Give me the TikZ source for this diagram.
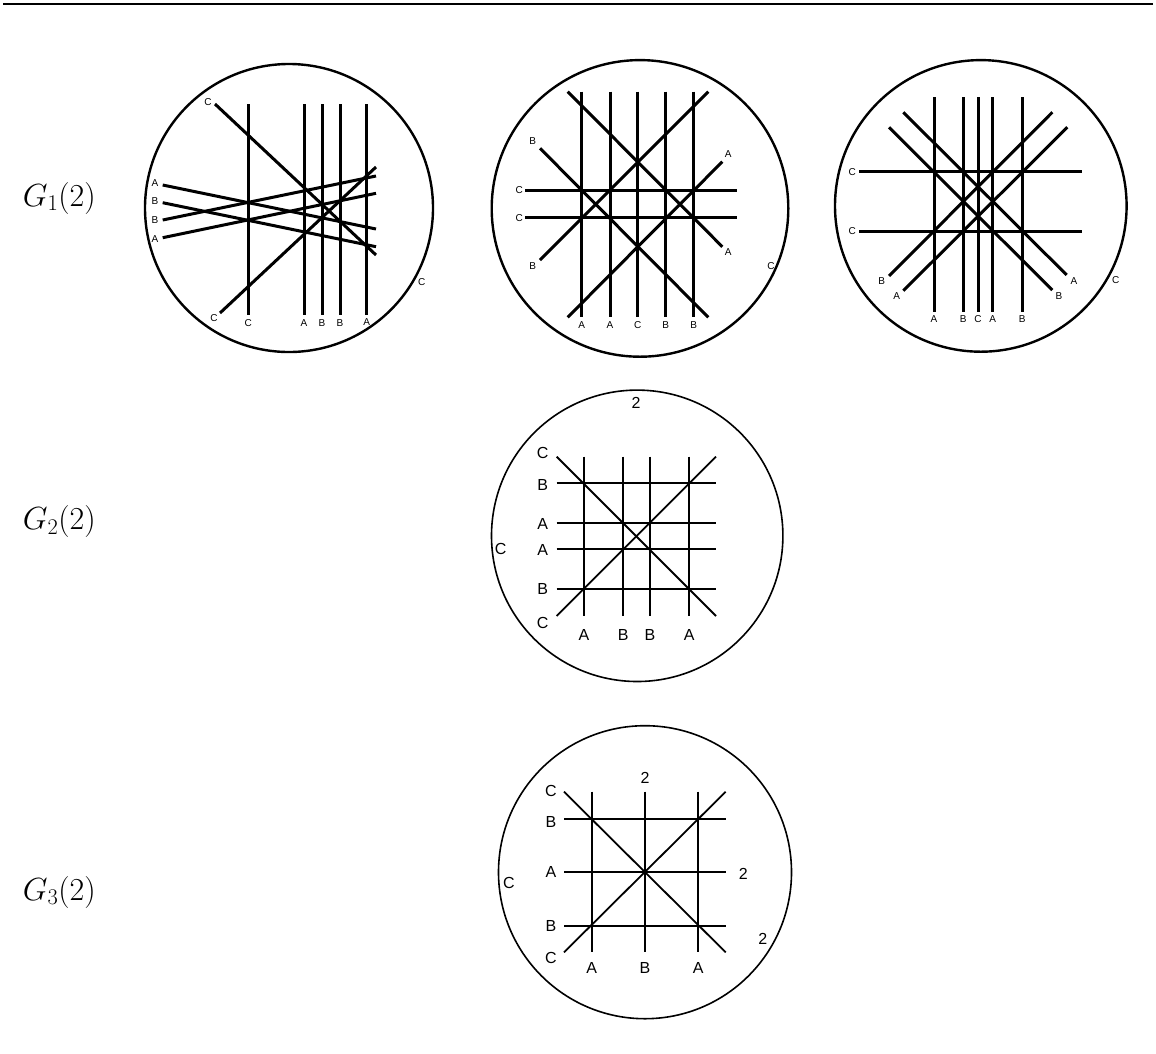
\RequirePackage{fix-cm}
\documentclass[tikz,border=0pt]{standalone}
\usepackage{fontspec}
\setsansfont{Liberation Sans}
\begin{document}
\begin{tikzpicture}[x=1pt,y=-1pt,
  thk/.style={line width=3pt},
  circA/.style={line width=2.4pt},
  thn/.style={line width=1.8pt},
  circB/.style={line width=1.6pt},
  lbs/.style={font=\sffamily\fontsize{10}{12}\selectfont, inner sep=0pt},
  lbl/.style={font=\sffamily\fontsize{16}{19}\selectfont, inner sep=0pt},
  glab/.style={font=\fontsize{32}{38}\selectfont, inner sep=0pt, anchor=base west}]
\useasboundingbox (0,0) rectangle (1156,1053);
\draw[line width=1.4pt] (3,4) -- (1153,4);

% row labels
\node[glab] (g1) at (22.7,206) {$G_1(2)$};
\node[glab] (g2) at (22.7,529.3) {$G_2(2)$};
\node[glab] (g3) at (22.7,900) {$G_3(2)$};

% ---------- circle 1 ----------
\draw[circA] (289,208) circle (144);
\foreach \x in {248.3,304,322,340,366.7} \draw[thk] (\x,104) -- (\x,315);
\node[lbs] (a1c) at (248.3,323) {C};
\node[lbs] (a1a) at (304,323) {A};
\node[lbs] (a1b) at (322,323) {B};
\node[lbs] (a1b2) at (340,323) {B};
\node[lbs] (a1a2) at (366.7,322.3) {A};
\draw[thk] (215,104) -- (376,255);
\node[lbs] (a1d1) at (208,102) {C};
\draw[thk] (220,313) -- (376,167);
\node[lbs] (a1d2) at (214,318) {C};
\draw[thk] (162.7,185) -- (376,229);
\node[lbs] (a1h1) at (155,183) {A};
\draw[thk] (162.7,202.7) -- (376,246.7);
\node[lbs] (a1h2) at (155,201) {B};
\draw[thk] (162.7,220) -- (376,176);
\node[lbs] (a1h3) at (155,220) {B};
\draw[thk] (162.7,237.7) -- (376,193.3);
\node[lbs] (a1h4) at (155,239) {A};
\node[lbs] (a1o) at (421.7,281.7) {C};

% ---------- circle 2 ----------
\draw[circA] (640,208.4) circle (148.3);
\foreach \x/\t in {581.7/A,610/A,637.7/C,665.7/B,693.7/B} {
  \draw[thk] (\x,91.7) -- (\x,317.3);
  \node[lbs] at (\x,325) {\t};
}
\draw[thk] (525,190) -- (736.7,190);
\draw[thk] (525,217.7) -- (736.7,217.7);
\node[lbs] (b2c1) at (519.3,190) {C};
\node[lbs] (b2c2) at (519.3,217.7) {C};
\draw[thk] (567.7,91.7) -- (722.3,246.7);
\draw[thk] (540,148.3) -- (708.3,317.3);
\draw[thk] (567.7,317.3) -- (722.3,161.7);
\draw[thk] (540,260) -- (708.3,91.7);
\node[lbs] (b2b1) at (532.7,141) {B};
\node[lbs] (b2a1) at (728.3,252.3) {A};
\node[lbs] (b2b2) at (532.7,265.7) {B};
\node[lbs] (b2a2) at (728.3,154) {A};
\node[lbs] (b2o) at (771,265.7) {C};

% ---------- circle 3 ----------
\draw[circA] (980.8,205.9) circle (145.8);
\foreach \x/\t in {934/A,963.3/B,978/C,992.7/A,1022.3/B} {
  \draw[thk] (\x,97.3) -- (\x,311.7);
  \node[lbs] at (\x,319.3) {\t};
}
\draw[thk] (859.3,171.7) -- (1082.3,171.7);
\draw[thk] (859.3,231) -- (1082.3,231);
\node[lbs] (c3c1) at (852.3,171.7) {C};
\node[lbs] (c3c2) at (852.3,231) {C};
\draw[thk] (903.3,112.3) -- (1066.7,275);
\draw[thk] (889,127.3) -- (1052.3,290);
\draw[thk] (889,276) -- (1052.3,112.3);
\draw[thk] (903.3,290.7) -- (1067.3,127.3);
\node[lbs] (c3a1) at (1074,281) {A};
\node[lbs] (c3b1) at (1059,296) {B};
\node[lbs] (c3b2) at (881.7,281) {B};
\node[lbs] (c3a2) at (896.7,296) {A};
\node[lbs] (c3o) at (1115.7,280) {C};

% ---------- circle 4 ----------
\draw[circB] (637.2,535.8) circle (145.7);
\node[lbl] (d2) at (636,402.7) {2};
\foreach \x/\t in {584/A,623.3/B,650/B,689.3/A} {
  \draw[thn] (\x,456.7) -- (\x,616);
  \node[lbl] at (\x,635) {\t};
}
\foreach \y in {483.3,523.3,549.3,589.3} \draw[thn] (556.7,\y) -- (716,\y);
\draw[thn] (556.7,456.7) -- (716,616);
\draw[thn] (556.7,616) -- (716,456.7);
\node[lbl] (d4c1) at (542.7,453.3) {C};
\node[lbl] (d4b1) at (542.7,484.5) {B};
\node[lbl] (d4a1) at (542.7,524) {A};
\node[lbl] (d4a2) at (542.7,550) {A};
\node[lbl] (d4b2) at (542.7,588.5) {B};
\node[lbl] (d4c2) at (542.7,623) {C};
\node[lbl] (d4o) at (500.7,549.3) {C};

% ---------- circle 5 ----------
\draw[circB] (645,872.2) circle (146.5);
\foreach \x/\t in {591.7/A,645/B,698.3/A} {
  \draw[thn] (\x,791.7) -- (\x,952.3);
  \node[lbl] at (\x,968.3) {\t};
}
\foreach \y in {819,872.3,925.7} \draw[thn] (564,\y) -- (725.7,\y);
\draw[thn] (564,791.7) -- (725.7,952.3);
\draw[thn] (564,952.3) -- (725.7,791.7);
\node[lbl] (e2a) at (645,778.3) {2};
\node[lbl] (e2b) at (743.3,874) {2};
\node[lbl] (e2c) at (762.7,939.3) {2};
\node[lbl] (e5c1) at (551,791) {C};
\node[lbl] (e5b1) at (551,821.7) {B};
\node[lbl] (e5a1) at (551,872.3) {A};
\node[lbl] (e5b2) at (551,925.7) {B};
\node[lbl] (e5c2) at (551,958.3) {C};
\node[lbl] (e5o) at (509,883.3) {C};
\end{tikzpicture}
\end{document}
